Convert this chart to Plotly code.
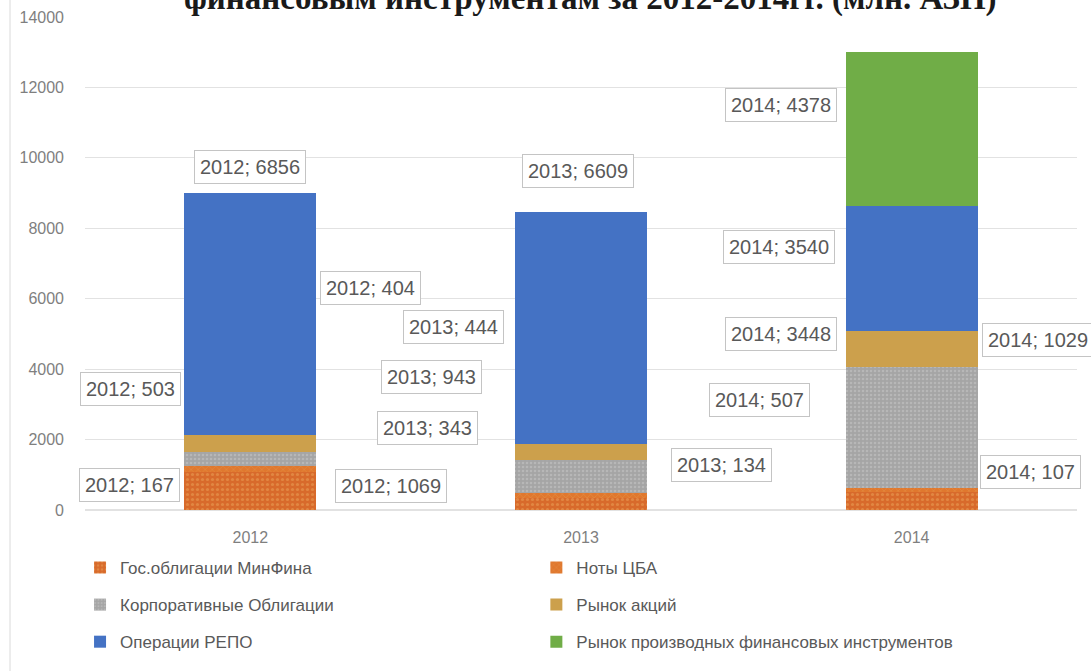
import plotly.graph_objects as go

# data (млн.)
years = ["2012", "2013", "2014"]
gos_obligacii = [1069, 343, 507]
noty_cba = [167, 134, 107]
korp_obligacii = [404, 943, 3448]
rynok_akcii = [503, 444, 1029]
repo = [6856, 6609, 3540]
proizvodnye = [0, 0, 4378]

series_names = [
    "Гос.облигации МинФина",
    "Ноты ЦБА",
    "Корпоративные Облигации",
    "Рынок акций",
    "Операции РЕПО",
    "Рынок производных финансовых инструментов",
]
series_values = [gos_obligacii, noty_cba, korp_obligacii, rynok_akcii, repo, proizvodnye]
title_text = "финансовым инструментам за 2012-2014гг. (млн. АЗН)"

# styles
colors = ["#D86A2B", "#E0782E", "#A5A5A5", "#CCA04C", "#4472C4", "#70AD47"]
patterns = [
    dict(shape=".", fgcolor="#E9A35A", size=5, solidity=0.3),
    dict(shape="x", fgcolor="#E9A35A", size=5, solidity=0.2),
    dict(shape=".", fgcolor="#C8C8C8", size=4, solidity=0.3),
    None, None, None,
]
legend_of = ["legend", "legend2", "legend", "legend2", "legend", "legend2"]

# manually placed data labels: (series index, year index) -> (x shift px, y in axis units)
label_pos = {
    (4, 0): (0, 9750), (2, 0): (120, 6300), (3, 0): (-120, 3440),
    (1, 0): (-121, 710), (0, 0): (141, 680),
    (4, 1): (-3, 9630), (3, 1): (-128, 5200), (2, 1): (-150, 3780),
    (0, 1): (-154, 2330), (1, 1): (140, 1280),
    (5, 2): (-131, 11500), (4, 2): (-133, 7470), (2, 2): (-131, 5000),
    (3, 2): (126, 4830), (0, 2): (-152, 3120), (1, 2): (119, 1080),
}

fig = go.Figure()
for i, name in enumerate(series_names):
    marker = dict(color=colors[i], line=dict(width=0))
    if patterns[i]:
        marker["pattern"] = patterns[i]
    fig.add_trace(go.Bar(
        x=years, y=series_values[i], name=name, marker=marker,
        legend=legend_of[i], legendgroup=name,
    ))

# x given as category index so "2012" is not read as position 2012
for (s, yi), (dx, ypos) in label_pos.items():
    fig.add_annotation(
        x=yi, y=ypos, xshift=dx, showarrow=False,
        text=f"{years[yi]}; {series_values[s][yi]}",
        font=dict(family="Liberation Sans, Arial", size=20, color="#595959"),
        bgcolor="white", bordercolor="#C4C4C4", borderwidth=1, borderpad=5,
    )

fig.add_annotation(
    xref="paper", yref="paper", x=0.51, y=1.0385, showarrow=False,
    text=f"<b>{title_text}</b>", yanchor="middle",
    font=dict(family="Liberation Serif, Times New Roman", size=33, color="#1A1A1A"),
)

# thin frame line at the far left
fig.add_shape(type="line", xref="paper", yref="paper", x0=-0.0756, x1=-0.0756,
              y0=-0.33, y1=1.04, line=dict(color="#DADADA", width=1))

legend_style = dict(
    orientation="v", traceorder="grouped", tracegroupgap=12,
    font=dict(family="Liberation Sans, Arial", size=17, color="#595959"),
    itemwidth=30, bgcolor="rgba(0,0,0,0)", yanchor="top",
)

fig.update_layout(
    width=1091, height=671,
    margin=dict(l=85, r=14, t=17, b=161, autoexpand=False),
    barmode="stack", bargap=0.6,
    plot_bgcolor="white", paper_bgcolor="white",
    showlegend=True,
    legend=dict(x=-0.005, y=-0.081, **legend_style),
    legend2=dict(x=0.455, y=-0.081, **legend_style),
    xaxis=dict(
        type="category", range=[-0.5, 2.5], showgrid=False, showline=False, ticks="",
        tickfont=dict(family="Liberation Sans, Arial", size=16, color="#7F7F7F"),
        ticklabelstandoff=16,
    ),
    yaxis=dict(
        range=[0, 14000], dtick=2000, tickformat="d", showline=False, ticks="",
        gridcolor="#E2E2E2", gridwidth=1, zeroline=True, zerolinecolor="#E2E2E2",
        tickfont=dict(family="Liberation Sans, Arial", size=16, color="#7F7F7F"),
        ticklabelstandoff=20,
    ),
)

# drop the default page margin so the chart sits at the window's top-left corner
fig.write_html("out.html", config={"displayModeBar": False},
               post_script="document.body.style.margin='0';")
